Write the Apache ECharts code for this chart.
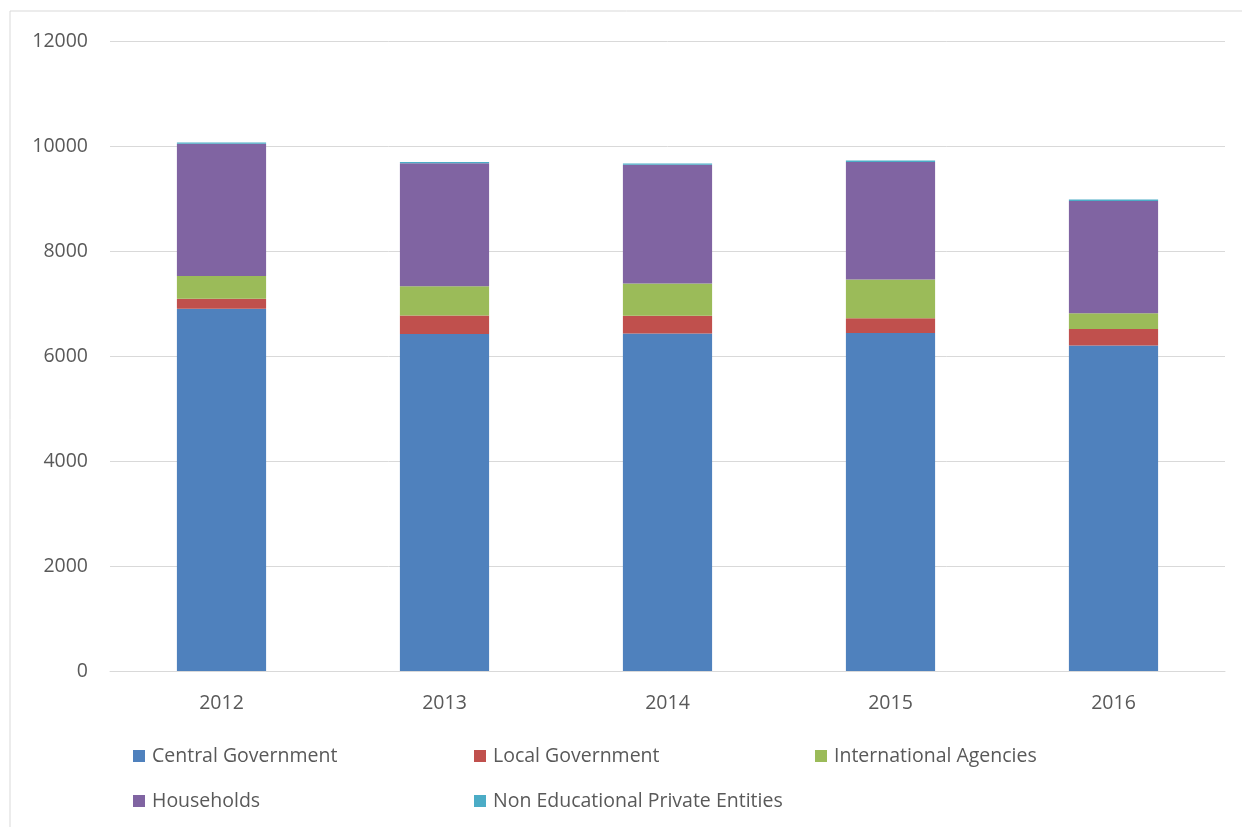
<!DOCTYPE html>
<html><head><meta charset="utf-8">
<script src="https://cdn.jsdelivr.net/npm/echarts@6/dist/echarts.min.js"></script>
<style>html,body{margin:0;padding:0;background:#fff}#c{width:1242px;height:827px}</style>
</head><body><div id="c"></div>
<script>
const categories = ['2012','2013','2014','2015','2016'];
const centralGov = [6900, 6420, 6430, 6440, 6200];
const localGov = [190, 350, 336, 280, 316];
const intlAgencies = [433, 560, 617, 737, 299];
const households = [2520, 2342, 2259, 2240, 2139];
const nonEduPrivate = [26, 25, 26, 26, 27];
const yTicks = [0, 2000, 4000, 6000, 8000, 10000, 12000];

const seriesDefs = [
  ['Central Government', centralGov, '#4F81BD'],
  ['Local Government', localGov, '#C0504D'],
  ['International Agencies', intlAgencies, '#9BBB59'],
  ['Households', households, '#8064A2'],
  ['Non Educational Private Entities', nonEduPrivate, '#4BACC6']
];
const legendPos = [[133,758],[474,758],[815,758],[133,803],[474,803]];
const font = "'Open Sans', sans-serif";
const chart = echarts.init(document.getElementById('c'));
chart.setOption({
  animation:false,
  color: seriesDefs.map(s=>s[2]),
  grid:{left:110,right:17,top:41,bottom:156,containLabel:false},
  graphic:[{type:'rect',shape:{x:10,y:11,width:1400,height:1000},style:{fill:'none',stroke:'#d9d9d9',lineWidth:1},silent:true}],
  legend: seriesDefs.map((s,i)=>({
    data:[s[0]], left:legendPos[i][0], top:legendPos[i][1]-12, itemWidth:12, itemHeight:12, itemGap:0, padding:0,
    icon:'rect', textStyle:{fontFamily:font,fontSize:19.5,color:'#595959',padding:[0,0,0,2]}
  })),
  xAxis:{type:'category',data:categories,
    axisLine:{lineStyle:{color:'#d9d9d9',width:1}},axisTick:{show:false},
    axisLabel:{fontFamily:font,fontSize:19.5,color:'#595959',margin:22}},
  yAxis:{type:'value',min:yTicks[0],max:yTicks[yTicks.length-1],interval:2000,
    axisLine:{show:false},axisTick:{show:false},
    splitLine:{lineStyle:{color:'#d9d9d9',width:1}},
    axisLabel:{fontFamily:font,fontSize:19.5,color:'#595959',margin:22,formatter:v=>String(v)}},
  series: seriesDefs.map(s=>({name:s[0],type:'bar',stack:'t',data:s[1],barWidth:'40%',itemStyle:{color:s[2]}}))
});
</script></body></html>
